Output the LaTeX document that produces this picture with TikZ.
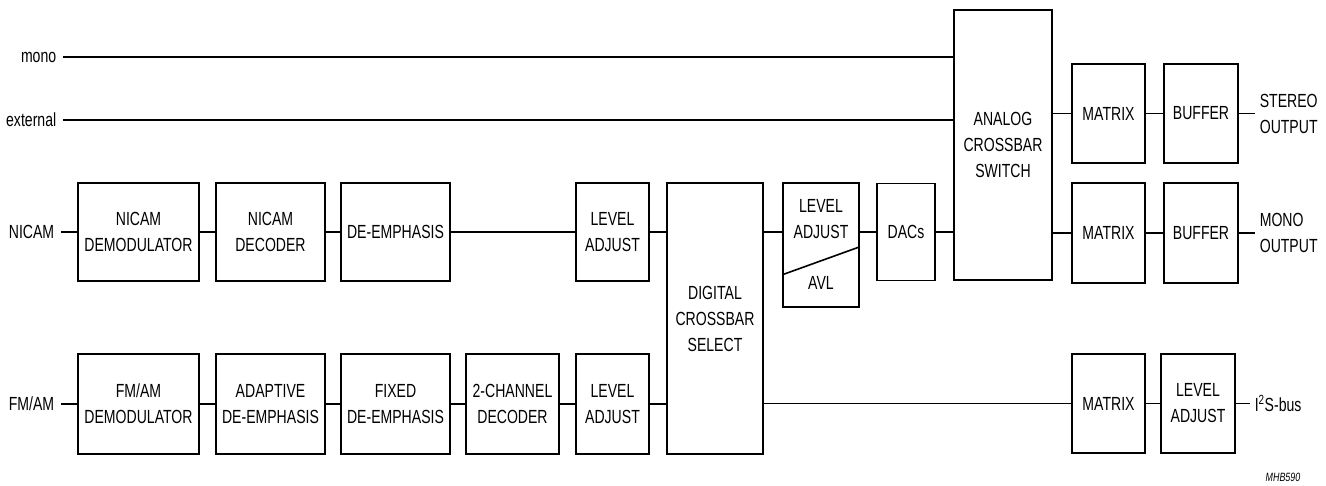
\documentclass[tikz,border=0pt]{standalone}
\usepackage{fontspec}
\setmainfont{Liberation Sans}[FakeStretch=0.74]

\begin{document}
\begin{tikzpicture}[x=1pt, y=-1pt, line width=1.6pt,
		every node/.style={font=\fontsize{19}{26}\selectfont, align=center},
		blk/.style n args={2}{draw, inner sep=0pt, minimum width=#1, minimum height=#2},
		lbl/.style={inner sep=6pt}]
			\useasboundingbox (0, 0) rectangle (1326, 485);
			
			% inputs
			\node[lbl, anchor=east] (mono)     at (63, 57)  {mono};
			\node[lbl, anchor=east] (external) at (63, 120) {external};
			\node[lbl, anchor=east] (nicam)    at (61, 232) {NICAM};
			\node[lbl, anchor=east] (fmam)     at (61, 404) {FM/AM};
			
			% NICAM path
			\node[blk={121pt}{98pt}] (nicamdemod) at (138.5, 232) {NICAM\\DEMODULATOR};
			\node[blk={109pt}{98pt}] (nicamdec)   at (270.5, 232) {NICAM\\DECODER};
			\node[blk={109pt}{98pt}] (deemph)     at (395.5, 232) {DE-EMPHASIS};
			\node[blk={73pt}{98pt}]  (levtop)     at (612.5, 232) {LEVEL\\ADJUST};
			
			% FM/AM path
			\node[blk={121pt}{100pt}] (fmdemod)  at (138.5, 404) {FM/AM\\DEMODULATOR};
			\node[blk={109pt}{100pt}] (adaptive) at (270.5, 404) {ADAPTIVE\\DE-EMPHASIS};
			\node[blk={109pt}{100pt}] (fixed)    at (395.5, 404) {FIXED\\DE-EMPHASIS};
			\node[blk={93pt}{100pt}]  (twoch)    at (512.5, 404) {2-CHANNEL\\DECODER};
			\node[blk={73pt}{100pt}]  (levbot)   at (612.5, 404) {LEVEL\\ADJUST};
			
			% crossbars
			\node[blk={96pt}{271pt}] (digital) at (715, 318.5) {DIGITAL\\CROSSBAR\\SELECT};
			\node[blk={76pt}{124pt}] (lavl)    at (821, 245) {};
			\node (lavltxt) at (821, 219) {LEVEL\\ADJUST};
			\node (avl)     at (821, 283) {AVL};
			\node[blk={58pt}{97pt}]  (dacs)    at (906, 232) {DACs};
			\node[blk={98pt}{270pt}] (analog)  at (1003, 145) {ANALOG\\CROSSBAR\\SWITCH};
			
			% outputs
			\node[blk={73pt}{99pt}]  (matA) at (1108.5, 113.5) {MATRIX};
			\node[blk={74pt}{99pt}]  (bufA) at (1201, 113.5)   {BUFFER};
			\node[blk={73pt}{100pt}] (matB) at (1108.5, 233)   {MATRIX};
			\node[blk={74pt}{100pt}] (bufB) at (1201, 233)     {BUFFER};
			\node[blk={73pt}{99pt}]  (matC) at (1108.5, 403.5) {MATRIX};
			\node[blk={74pt}{99pt}]  (levC) at (1198, 403.5)   {LEVEL\\ADJUST};
			\node[inner sep=4pt, anchor=west, align=left] (stereo) at (1255, 113.5) {STEREO\\OUTPUT};
			\node[inner sep=4pt, anchor=west, align=left] (monoout) at (1255, 233) {MONO\\OUTPUT};
			\node[inner sep=4pt, anchor=west] (i2s) at (1250, 403.5) {I\textsuperscript{2}S-bus};
			\node[font=\fontsize{12}{14}\selectfont\itshape] (code) at (1283, 477) {MHB590};
			
			\draw ([yshift=33pt]lavl.south west) -- ([yshift=61pt]lavl.south east);
			
			\draw (mono) -- (mono -| analog.west);
			\draw (external) -- (external -| analog.west);
			\draw (nicam) -- (nicamdemod) -- (nicamdec) -- (deemph) -- (levtop);
			\draw (levtop) -- (levtop -| digital.west);
			\draw (levtop -| digital.east) -- (levtop -| lavl.west);
			\draw (dacs -| lavl.east) -- (dacs) -- (dacs -| analog.west);
			\draw (fmam) -- (fmdemod) -- (adaptive) -- (fixed) -- (twoch) -- (levbot);
			\draw (levbot) -- (levbot -| digital.west);
			\draw (matC -| digital.east) -- (matC) -- (levC) -- (i2s);
			\draw (matA -| analog.east) -- (matA) -- (bufA) -- (stereo);
			\draw (matB -| analog.east) -- (matB) -- (bufB) -- (monoout);
		\end{tikzpicture}
\end{document}
